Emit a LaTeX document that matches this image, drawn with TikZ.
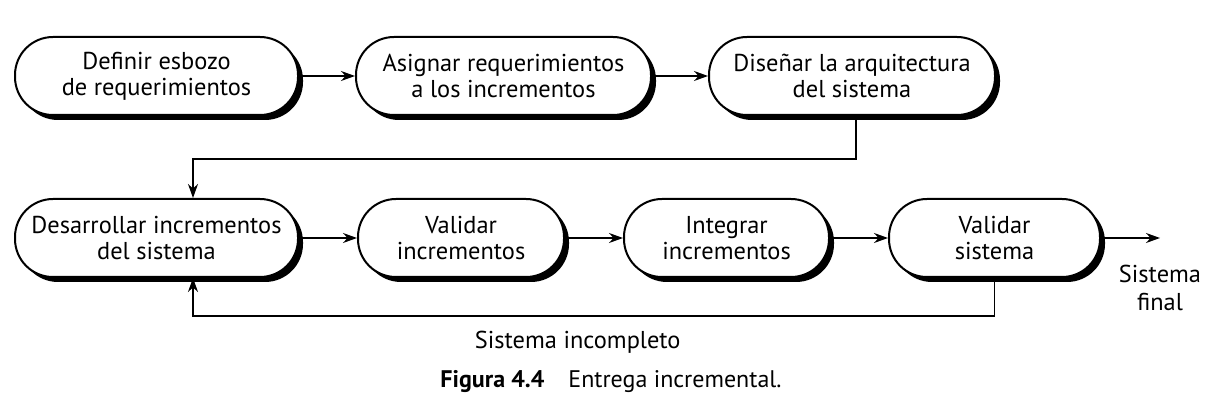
\documentclass[tikz,border=0pt]{standalone}
\usepackage{fontspec}
\setmainfont{PT Sans}
\usetikzlibrary{positioning, arrows.meta, shadows}
\tikzset{
  >={Stealth[length=7pt, width=5pt]}, % bold arrow heads
  node distance=28pt, % gap between two boxes in a row
  task/.style={rectangle, rounded corners=19pt, draw, line width=1pt, fill=white,
    minimum height=39pt, align=center, inner sep=2pt,
    drop shadow={shadow xshift=2.5pt, shadow yshift=-2.5pt, fill=black, opacity=1}},
  link/.style={->, line width=0.75pt},
}

\begin{document}
\begin{tikzpicture}[font=\fontsize{12.2}{13}\selectfont]
  \useasboundingbox (0,0) rectangle (605pt,-208pt);

  % first row
  \node[task, minimum width=141.5pt] (1) at (78.25pt,-38pt) {Definir esbozo\\de requerimientos};
  \node[task, right=of 1, minimum width=147.5pt] (2) {Asignar requerimientos\\a los incrementos};
  \node[task, right=of 2, minimum width=143pt] (3) {Diseñar la arquitectura\\del sistema};

  % second row
  \node[task, below=41pt of 1, minimum width=141.5pt] (4) {Desarrollar incrementos\\del sistema};
  \node[task, right=29pt of 4, minimum width=103pt] (5) {Validar\\incrementos};
  \node[task, right=29pt of 5, minimum width=102.5pt] (6) {Integrar\\incrementos};
  \node[task, right=29pt of 6, minimum width=105.5pt] (7) {Validar\\sistema};

  \coordinate[right=29.5pt of 7.east] (out);
  \node[below=10pt of out, align=center, font=\fontsize{12.2}{14}\selectfont] (final) {Sistema\\final};

  \draw[link] (1) -- (2);
  \draw[link] (2) -- (3);
  \draw[link] ([xshift=2pt]3.south) -- ++(0,-21.5pt) -| ([xshift=18.25pt]4.north);
  \draw[link] (4) -- (5);
  \draw[link] (5) -- (6);
  \draw[link] (6) -- (7);
  \draw[link] (7.east) -- (out);
  \draw[link] (7.south) -- ++(0,-19pt) -| node[pos=0.26, below=4pt] (incomplete) {Sistema incompleto}
    ([xshift=18.25pt]4.south);

  % caption
  \node[font=\fontsize{12}{14}\selectfont] (caption) at (305.5pt,-191pt) {\textbf{Figura 4.4}\quad Entrega incremental.};
\end{tikzpicture}
\end{document}
